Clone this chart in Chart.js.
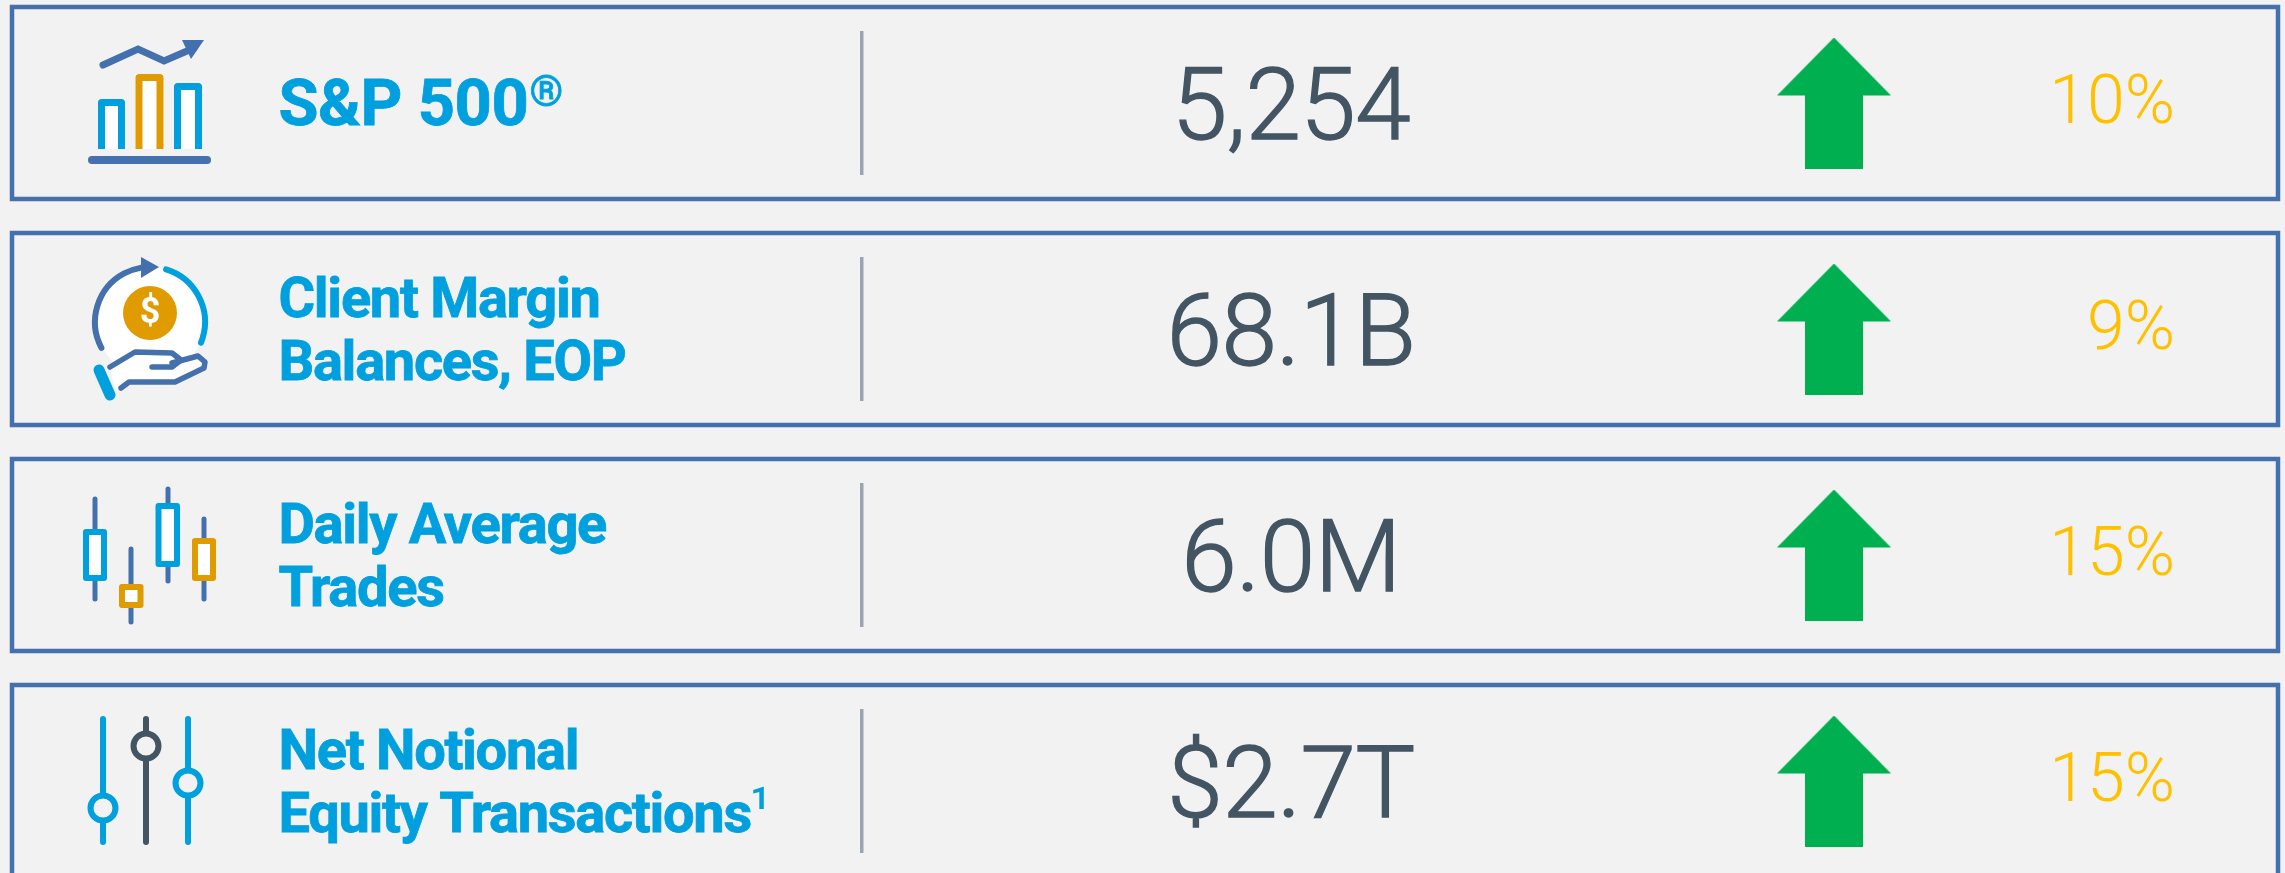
<!DOCTYPE html>
<html>
<head>
  <script src="https://cdn.jsdelivr.net/npm/chart.js@4"></script>
  <style>
    html, body { margin: 0; padding: 0; background: #f2f2f2; overflow: hidden; }
    canvas { display: block; }
  </style>
</head>
<body>
  <canvas id="myChart" width="2285" height="873"></canvas>
  <script>
    const metrics = [['S&P 500®'], ['Client Margin', 'Balances, EOP'], ['Daily Average', 'Trades'], ['Net Notional', 'Equity Transactions¹']];
    const valueLabels = ['5,254', '68.1B', '6.0M', '$2.7T'];
    const changes = [10, 9, 15, 15];

    const BLUE = '#00a0df', NAVY = '#4470ad', AMBER = '#e09b00', SLATE = '#435563', GOLD = '#ffc000', GREEN = '#00b050';

    // arrow used as point style, one per row
    function upArrow() {
      const c = document.createElement('canvas');
      c.width = 114; c.height = 131;
      const g = c.getContext('2d');
      g.fillStyle = GREEN;
      g.beginPath();
      g.moveTo(57, 0); g.lineTo(114, 58); g.lineTo(86, 58); g.lineTo(86, 131);
      g.lineTo(28, 131); g.lineTo(28, 58); g.lineTo(0, 58);
      g.closePath();
      g.fill();
      return c;
    }

    function poly(ctx, pts, close) {
      ctx.beginPath();
      pts.forEach((p, i) => i ? ctx.lineTo(p[0], p[1]) : ctx.moveTo(p[0], p[1]));
      if (close) ctx.closePath();
    }

    function bar(ctx, x0, x1, top, bottom, color) {
      ctx.fillStyle = '#fff';
      ctx.fillRect(x0, top, x1 - x0, bottom - top);
      ctx.strokeStyle = color;
      ctx.lineWidth = 7;
      ctx.lineJoin = 'round';
      poly(ctx, [[x0 + 3.5, bottom], [x0 + 3.5, top + 3.5], [x1 - 3.5, top + 3.5], [x1 - 3.5, bottom]]);
      ctx.stroke();
    }

    function iconChart(ctx) {
      ctx.lineCap = 'round';
      ctx.strokeStyle = NAVY;
      ctx.lineWidth = 7;
      ctx.lineJoin = 'miter';
      poly(ctx, [[103, -38], [138, -54], [164, -42], [194, -55]]);
      ctx.stroke();
      ctx.fillStyle = NAVY;
      poly(ctx, [[182, -63], [204, -63], [191, -44]], true);
      ctx.fill();
      ctx.lineCap = 'butt';
      bar(ctx, 98, 125, -4, 46, BLUE);
      bar(ctx, 135.5, 163.5, -29, 46, AMBER);
      bar(ctx, 174, 202, -20, 46, BLUE);
      ctx.fillStyle = NAVY;
      ctx.beginPath();
      ctx.roundRect(88, 53, 123, 8, 4);
      ctx.fill();
    }

    function iconCoin(ctx) {
      ctx.fillStyle = '#fff';
      ctx.beginPath();
      ctx.arc(150, -7, 54, 0, Math.PI * 2);
      ctx.fill();
      poly(ctx, [[110, 38], [135, 23], [172, 24], [198, 27], [205, 33], [204, 39], [175, 53], [129, 53], [115, 62]], true);
      ctx.fill();
      ctx.lineWidth = 6;
      ctx.lineCap = 'round';
      ctx.lineJoin = 'round';
      ctx.strokeStyle = NAVY;
      ctx.beginPath();
      ctx.arc(150, -7, 55, 152 * Math.PI / 180, 260 * Math.PI / 180);
      ctx.stroke();
      ctx.fillStyle = NAVY;
      poly(ctx, [[141, -72], [159, -62], [141, -51]], true);
      ctx.fill();
      ctx.strokeStyle = BLUE;
      ctx.beginPath();
      ctx.arc(150, -7, 55, -73 * Math.PI / 180, 22 * Math.PI / 180);
      ctx.stroke();
      ctx.fillStyle = AMBER;
      ctx.beginPath();
      ctx.arc(150, -16, 27, 0, Math.PI * 2);
      ctx.fill();
      ctx.fillStyle = '#fff';
      ctx.font = 'bold 36px Roboto';
      ctx.textAlign = 'center';
      ctx.textBaseline = 'middle';
      ctx.fillText('$', 150, -15);
      ctx.strokeStyle = NAVY;
      ctx.lineWidth = 5.5;
      poly(ctx, [[110, 38], [135, 23], [172, 24], [181, 31], [172, 38], [152, 38]]);
      ctx.stroke();
      poly(ctx, [[172, 34], [198, 27], [205, 33], [204, 39], [175, 53], [129, 53], [121, 59]]);
      ctx.stroke();
      ctx.strokeStyle = BLUE;
      ctx.lineWidth = 11;
      ctx.lineCap = 'round';
      poly(ctx, [[99, 41], [110, 66]]);
      ctx.stroke();
    }

    function candle(ctx, wickX, wickTop, wickBottom, x0, x1, top, bottom, color) {
      ctx.strokeStyle = NAVY;
      ctx.lineWidth = 5;
      ctx.lineCap = 'round';
      poly(ctx, [[wickX, wickTop], [wickX, wickBottom]]);
      ctx.stroke();
      ctx.fillStyle = '#fff';
      ctx.strokeStyle = color;
      ctx.lineWidth = 6;
      ctx.lineJoin = 'round';
      ctx.beginPath();
      ctx.rect(x0 + 3, top + 3, x1 - x0 - 6, bottom - top - 6);
      ctx.fill();
      ctx.stroke();
    }

    function iconCandles(ctx) {
      candle(ctx, 95, -56, 44, 83, 107, -26, 26, BLUE);
      candle(ctx, 131, -6, 67, 119, 143.5, 29, 53, AMBER);
      candle(ctx, 168, -66, 26, 155.5, 180, -52, 12, BLUE);
      candle(ctx, 204, -36, 44, 192, 216, -17, 26, AMBER);
    }

    function slider(ctx, x, knob, color) {
      ctx.strokeStyle = color;
      ctx.lineWidth = 6;
      ctx.lineCap = 'round';
      poly(ctx, [[x, -62], [x, 61]]);
      ctx.stroke();
      ctx.fillStyle = '#f2f2f2';
      ctx.beginPath();
      ctx.arc(x, knob, 12.5, 0, Math.PI * 2);
      ctx.fill();
      ctx.stroke();
    }

    function iconSliders(ctx) {
      slider(ctx, 103, 27, BLUE);
      slider(ctx, 146, -35, SLATE);
      slider(ctx, 188, 2, BLUE);
    }

    const icons = [iconChart, iconCoin, iconCandles, iconSliders];

    // metric name, trailing mark (® or ¹) set apart as a superscript
    function drawName(ctx, text, x, y, size, spacing) {
      const m = text.match(/^(.*?)([®¹]?)$/);
      ctx.fillStyle = BLUE;
      ctx.strokeStyle = BLUE;
      ctx.lineWidth = 0.8;
      ctx.textAlign = 'left';
      ctx.textBaseline = 'alphabetic';
      ctx.font = `bold ${size}px Roboto`;
      ctx.letterSpacing = spacing + 'px';
      ctx.fillText(m[1], x, y);
      ctx.strokeText(m[1], x, y);
      const w = ctx.measureText(m[1]).width;
      ctx.letterSpacing = '0px';
      if (m[2] === '®') {
        ctx.font = 'bold 43px Roboto';
        ctx.fillText(m[2], x + w + 1, y - 19);
        ctx.strokeText(m[2], x + w + 1, y - 19);
      } else if (m[2]) {
        ctx.font = '400 58px Roboto';
        ctx.fillText(m[2], x + w - 1, y - 4);
      }
    }

    const rowsPlugin = {
      id: 'rows',
      beforeDatasetsDraw(chart) {
        const { ctx, scales: { x, y } } = chart;
        ctx.save();
        ctx.fillStyle = '#f2f2f2';
        ctx.fillRect(0, 0, chart.width, chart.height);
        metrics.forEach((lines, i) => {
          const py = y.getPixelForValue(i);
          // frame
          ctx.strokeStyle = NAVY;
          ctx.lineWidth = 4.5;
          ctx.strokeRect(x.getPixelForValue(12), py - 96, x.getPixelForValue(2278) - x.getPixelForValue(12), 192);
          // divider
          ctx.fillStyle = '#9aa5b1';
          ctx.fillRect(x.getPixelForValue(860), py - 72, 3.5, 144);
          // icon
          ctx.save();
          ctx.translate(0, py);
          icons[i](ctx);
          ctx.restore();
          // name
          const nx = x.getPixelForValue(278.5);
          if (lines.length === 1) {
            drawName(ctx, lines[0], nx, py + 22, 65, -0.4);
          } else {
            drawName(ctx, lines[0], nx, py - 12, 56, -1.3);
            drawName(ctx, lines[1], nx, py + 51, 56, -1.3);
          }
          // value, light weight thickened a little
          ctx.fillStyle = SLATE;
          ctx.strokeStyle = SLATE;
          ctx.lineWidth = 1.4;
          ctx.textAlign = 'center';
          ctx.textBaseline = 'alphabetic';
          ctx.font = '300 100px Roboto';
          ctx.letterSpacing = '-0.5px';
          ctx.fillText(valueLabels[i], x.getPixelForValue(1291), py + 36);
          ctx.strokeText(valueLabels[i], x.getPixelForValue(1291), py + 36);
          ctx.letterSpacing = '0px';
          // change
          ctx.fillStyle = GOLD;
          ctx.textAlign = 'right';
          ctx.font = '300 68px Roboto';
          ctx.fillText(changes[i] + '%', x.getPixelForValue(2175), py + 20);
        });
        ctx.restore();
      },
    };

    const arrowPoints = changes.map((_, i) => ({ x: 1834, y: i }));

    new Chart(document.getElementById('myChart'), {
      type: 'scatter',
      data: {
        datasets: [{
          data: arrowPoints,
          pointStyle: upArrow(),
          pointRadius: 1,
          clip: false,
        }],
      },
      options: {
        responsive: false,
        animation: false,
        events: [],
        layout: { padding: 0, autoPadding: false },
        plugins: { legend: { display: false }, tooltip: { enabled: false } },
        scales: {
          x: { type: 'linear', display: false, min: 0, max: 2285 },
          y: { type: 'linear', display: false, reverse: true, min: -103 / 226, max: 770 / 226 },
        },
      },
      plugins: [rowsPlugin],
    });
  </script>
</body>
</html>
